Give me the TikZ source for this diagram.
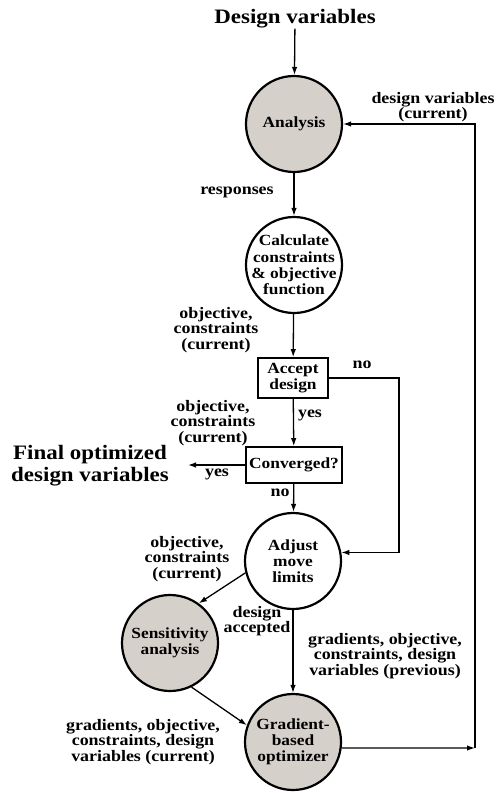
\documentclass[tikz,border=0pt]{standalone}
\usepackage{fontspec}
\setmainfont{Liberation Serif}[FakeStretch=1.12]
\usetikzlibrary{arrows.meta}
\definecolor{shade}{RGB}{213,208,202}
\begin{document}
\begin{tikzpicture}[x=1pt,y=-1pt,
 every node/.style={font=\fontsize{15.5}{16}\selectfont\bfseries, align=center, inner sep=0pt},
 proc/.style={circle, draw, line width=2.2pt, minimum size=96pt},
 grey/.style={proc, fill=shade},
 txt/.style={font=\fontsize{15.5}{16.2}\selectfont\bfseries},
 lab/.style={font=\fontsize{16}{15.5}\selectfont\bfseries},
 big/.style={font=\fontsize{20.5}{22}\selectfont\bfseries},
 box/.style={draw, line width=1.7pt},
 conn/.style={line width=1.3pt, -{Latex[length=8pt,width=5.5pt]}},
]
\useasboundingbox (0,0) rectangle (497,793);

% title
\node[big] (title) at (295,19) {Design variables};

% process circles
\node[grey] (ana) at (294,124) {};
\node[txt] (anat) at (ana) {Analysis};
\node[proc] (calc) at (294,265) {};
\node[txt] (calct) at (calc) {Calculate\\constraints\\\& objective\\function};
\node[proc] (adj) at (293,561) {};
\node[txt] (adjt) at (adj) {Adjust\\move\\limits};
\node[grey] (sens) at (170,643) {};
\node[txt] (senst) at (sens) {Sensitivity\\analysis};
\node[grey] (grad) at (293,742) {};
\node[txt] (gradt) at (grad) {Gradient-\\based\\optimizer};

% decision boxes
\node[box, minimum width=70pt, minimum height=40pt] (acc) at (293,378) {Accept\\design};
\node[box, minimum width=96pt, minimum height=36pt] (conv) at (294,465) {Converged?};

% final output
\node[big] (final) at (90,466) {Final optimized\\design variables};

% helper coordinates
\coordinate (finend) at (188,465);
\coordinate (noc) at (399,465);
\coordinate (corner) at (475,748);

% connectors
\draw[conn] (title) -- (ana);
\draw[conn] (ana) -- (calc);
\draw[conn] (calc) -- (acc);
\draw[conn] (acc) -- (conv);
\draw[conn] (conv) -- (adj);
\draw[conn] (conv.west) -- (finend);
\draw[conn] (acc.east) -| (noc) |- (adj.10);
\draw[conn] (adj.194) -- (sens.54);
\draw[conn] (sens.-64) -- (grad.160);
\draw[conn] (adj) -- (grad);
\draw[conn] (grad.-7) -- (corner);
\draw[conn] (corner) |- (ana.east);

% labels
\node[lab] (lresp) at (237,192) {responses};
\node[lab] (ldv) at (433,107) {design variables\\(current)};
\node[lab] (lobj1) at (216,330) {objective,\\constraints\\(current)};
\node[lab] (lno1) at (362,365) {no};
\node[lab] (lyes1) at (310,415) {yes};
\node[lab] (lobj2) at (213,423) {objective,\\constraints\\(current)};
\node[lab] (lyes2) at (217,474) {yes};
\node[lab] (lno2) at (280,493) {no};
\node[lab] (lobj3) at (187,559) {objective,\\constraints\\(current)};
\node[lab] (lacc) at (257,621) {design\\accepted};
\node[lab] (lprev) at (385,656) {gradients, objective,\\constraints, design\\variables (previous)};
\node[lab] (lcur) at (143,742) {gradients, objective,\\constraints, design\\variables (current)};
\end{tikzpicture}
\end{document}
